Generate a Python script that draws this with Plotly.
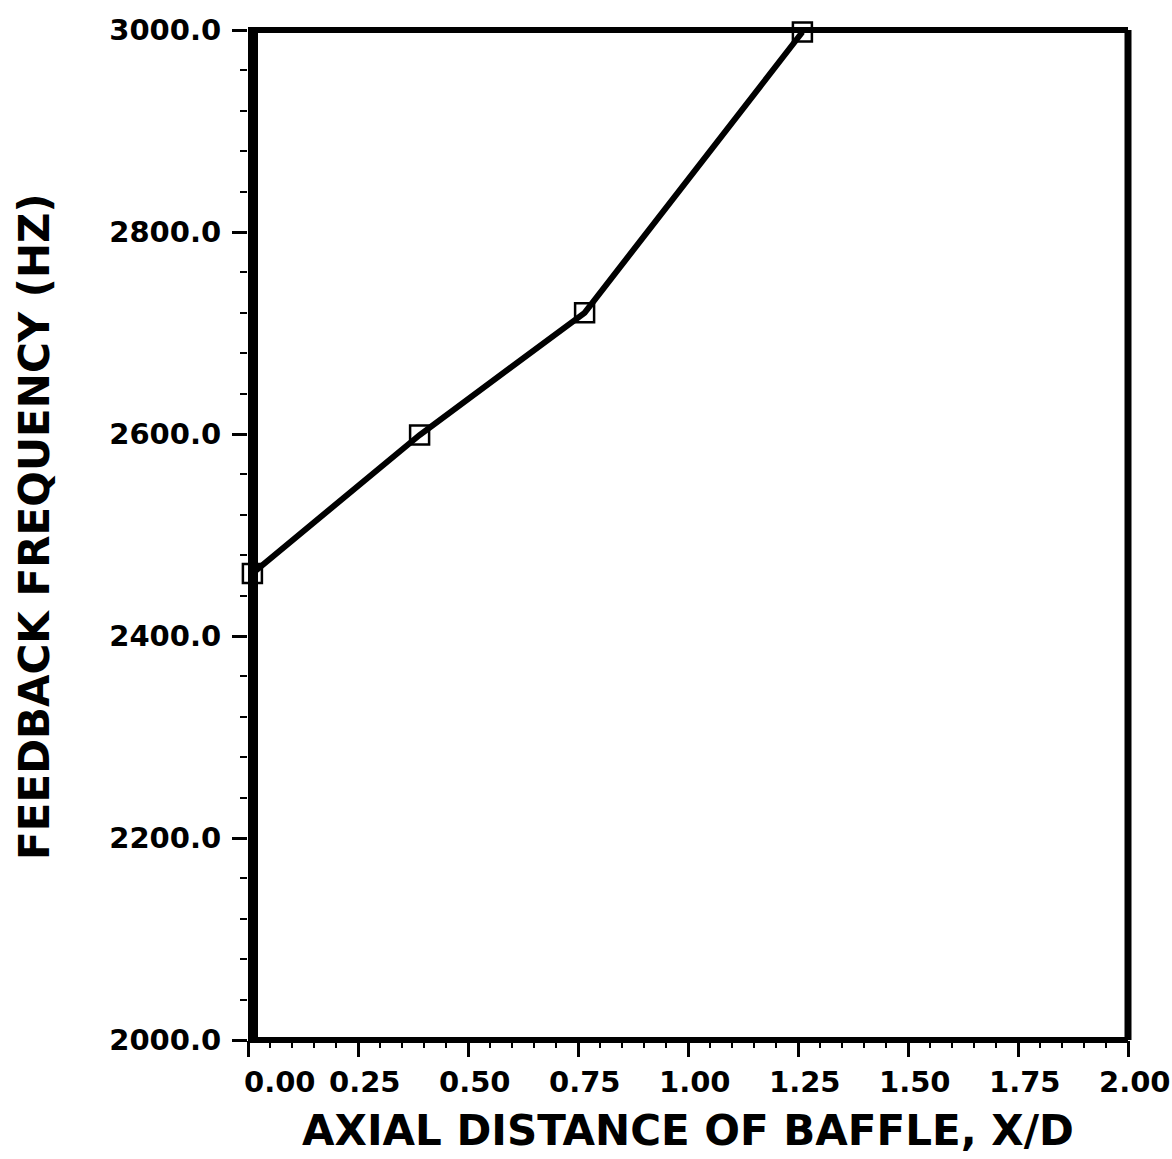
import plotly.graph_objects as go

# Measured feedback frequency versus baffle position
axial_distance = [0.01, 0.39, 0.765, 1.26]
feedback_hz = [2462, 2599, 2720, 2998]

x_ticks = [0.00, 0.25, 0.50, 0.75, 1.00, 1.25, 1.50, 1.75, 2.00]
x_tick_labels = ["0.00", "0.25", "0.50", "0.75", "1.00", "1.25", "1.50", "1.75", "2.00"]
y_ticks = [2000, 2200, 2400, 2600, 2800, 3000]
y_tick_labels = ["2000.0", "2200.0", "2400.0", "2600.0", "2800.0", "3000.0"]

x_title = "AXIAL DISTANCE OF BAFFLE, X/D"
y_title = "FEEDBACK FREQUENCY (HZ)"

W, H = 1172, 1159
M_L, M_R, M_T, M_B = 248, 44, 30, 119
plot_w = W - M_L - M_R
plot_h = H - M_T - M_B

FONT = "DejaVu Sans"
tick_font = dict(family=FONT, size=29, color="black", weight="bold")
title_font = dict(family=FONT, size=42, color="black", weight="bold")

fig = go.Figure()
fig.add_trace(go.Scatter(
    x=axial_distance,
    y=feedback_hz,
    mode="lines+markers",
    line=dict(color="black", width=6),
    marker=dict(symbol="square-open", size=19, color="black",
                line=dict(color="black", width=2.5)),
    showlegend=False,
    cliponaxis=False,
))

# Heavy frame around the plotting area
frame = dict(type="line", xref="paper", yref="paper", layer="above")
fig.add_shape(**frame, x0=0, x1=1, y0=1, y1=1, line=dict(color="black", width=6))
fig.add_shape(**frame, x0=1, x1=1, y0=0, y1=1, line=dict(color="black", width=7))
fig.add_shape(**frame, x0=0, x1=1, y0=0, y1=0, line=dict(color="black", width=6))
fig.add_shape(type="rect", xref="paper", yref="paper", layer="above",
              x0=0, x1=10 / plot_w, y0=-3 / plot_h, y1=1 + 3 / plot_h,
              fillcolor="black", line=dict(width=0))

# X tick labels, nudged right; the first one clears the heavy left border
for v, txt in zip(x_ticks, x_tick_labels):
    fig.add_annotation(
        x=v, xref="x", y=-42 / plot_h, yref="paper",
        text=txt, showarrow=False, font=tick_font,
        xanchor="center", yanchor="middle",
        xshift=32 if v == x_ticks[0] else 7,
    )

fig.add_annotation(
    x=0.5, xref="paper", y=-90 / plot_h, yref="paper",
    text=x_title, showarrow=False, font=title_font,
    xanchor="center", yanchor="middle",
)
fig.add_annotation(
    x=-(M_L - 35) / plot_w, xref="paper", y=0.508, yref="paper",
    text=y_title, showarrow=False, font=title_font, textangle=-90,
    xanchor="center", yanchor="middle",
)

fig.update_xaxes(
    range=[0, 2], showgrid=False, zeroline=False, showline=False,
    tickvals=x_ticks, showticklabels=False,
    ticks="outside", ticklen=16, tickwidth=2.5, tickcolor="black",
    minor=dict(dtick=0.05, ticks="outside", ticklen=7, tickwidth=2, tickcolor="black", showgrid=False),
)
fig.update_yaxes(
    range=[2000, 3000], showgrid=False, zeroline=False, showline=False,
    tickvals=y_ticks, ticktext=y_tick_labels, tickfont=tick_font,
    ticks="outside", ticklen=15, tickwidth=2.5, tickcolor="black",
    ticklabelstandoff=5,
    minor=dict(dtick=40, ticks="outside", ticklen=7, tickwidth=2, tickcolor="black", showgrid=False),
)

fig.update_layout(
    width=W, height=H,
    margin=dict(l=M_L, r=M_R, t=M_T, b=M_B, pad=0),
    paper_bgcolor="white", plot_bgcolor="white",
)

fig.write_html("out.html")
